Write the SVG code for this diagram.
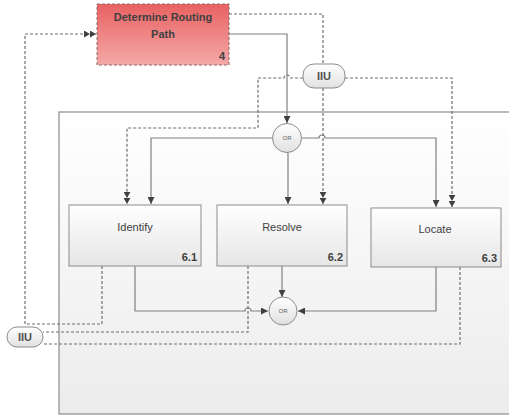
<svg xmlns="http://www.w3.org/2000/svg" width="509" height="416" viewBox="0 0 509 416">
<defs>
<linearGradient id="gBox" x1="0" y1="0" x2="0" y2="1"><stop offset="0" stop-color="#ffffff"/><stop offset="1" stop-color="#e6e6e6"/></linearGradient>
<linearGradient id="gCont" x1="0" y1="0" x2="0" y2="1"><stop offset="0" stop-color="#ffffff"/><stop offset="1" stop-color="#ececec"/></linearGradient>
<linearGradient id="gRed" x1="0" y1="0" x2="0" y2="1"><stop offset="0" stop-color="#e86262"/><stop offset="1" stop-color="#f5a8a8"/></linearGradient>
<linearGradient id="gIIU" x1="0" y1="0" x2="0" y2="1"><stop offset="0" stop-color="#ffffff"/><stop offset="1" stop-color="#e0e0e0"/></linearGradient>
<marker id="a1" viewBox="0 0 8 8" refX="8" refY="4" markerWidth="7" markerHeight="7" markerUnits="userSpaceOnUse" orient="auto"><path d="M0,0 L8,4 L0,8 Z" fill="#404040"/></marker>
<marker id="a2" viewBox="0 0 14 8" refX="14" refY="4" markerWidth="12" markerHeight="7" markerUnits="userSpaceOnUse" orient="auto"><path d="M0,0 L7,4 L0,8 Z M7,0 L14,4 L7,8 Z" fill="#404040"/></marker>
</defs>
<style>
.box{fill:url(#gBox);stroke:#8c8c8c;stroke-width:1}
.t{font-family:"Liberation Sans",Arial,sans-serif;font-size:11px;fill:#404040}
.n{font-family:"Liberation Sans",Arial,sans-serif;font-size:11px;font-weight:bold;fill:#404040}
.iiu{font-family:"Liberation Sans",Arial,sans-serif;font-size:11px;font-weight:bold;fill:#505050}
.or{fill:url(#gIIU);stroke:#8c8c8c;stroke-width:1}
.ort{font-family:"Liberation Sans",Arial,sans-serif;font-size:6px;fill:#606060}
.s{fill:none;stroke:#808080;stroke-width:1.2}
.d{fill:none;stroke:#6e6e6e;stroke-width:1.2;stroke-dasharray:3,2}
</style>
<rect x="59" y="112" width="460" height="302" fill="url(#gCont)" stroke="#8c8c8c" stroke-width="1.2"/>

<g id="connectors">
<path class="s" d="M229,34 H287 V123" marker-end="url(#a1)"/>
<path class="s" d="M273,138 H151 V204" marker-end="url(#a1)"/>
<path class="s" d="M288,153 V204" marker-end="url(#a1)"/>
<path class="s" d="M302,138 H319 a3,3 0 0 1 6,0 H436 V207" marker-end="url(#a1)"/>
<path class="s" d="M135,266 V311 H245 a3,3 0 0 1 6,0 H268" marker-end="url(#a1)"/>
<path class="s" d="M282,266 V297" marker-end="url(#a1)"/>
<path class="s" d="M436,267 V311 H298" marker-end="url(#a1)"/>
<path class="d" d="M229,14 H323 V63"/>
<path class="d" d="M323,88 V204" marker-end="url(#a2)"/>
<path class="d" d="M345,78 H452 V207" marker-end="url(#a2)"/>
<path class="d" d="M303,78 H290 a3,3 0 0 0 -6,0 H258 V128 H127 V204" marker-end="url(#a2)"/>
<path class="d" d="M102,266 V324 H25 V34 H96" marker-end="url(#a2)"/>
<path class="d" d="M248,266 V332 H43"/>
<path class="d" d="M460,267 V344 H43"/>
</g>

<g id="node-4">
<rect x="97" y="4" width="132" height="61" fill="url(#gRed)" stroke="#8c6a6a" stroke-width="1" stroke-dasharray="3,2"/>
<text class="n" x="163" y="21" text-anchor="middle">Determine Routing</text>
<text class="n" x="163" y="38" text-anchor="middle">Path</text>
<text class="n" x="225" y="60" text-anchor="end">4</text>
</g>

<g id="iiu-top">
<rect x="303" y="64" width="42" height="24" rx="11" ry="11" class="or"/>
<text class="iiu" x="324" y="80" text-anchor="middle">IIU</text>
</g>

<g id="or-top">
<circle cx="287" cy="138" r="14.5" class="or"/>
<text class="ort" x="287" y="140" text-anchor="middle">OR</text>
</g>

<g id="node-6-1">
<rect x="69" y="205" width="132" height="61" class="box"/>
<text class="t" x="135" y="231" text-anchor="middle">Identify</text>
<text class="n" x="197" y="261" text-anchor="end">6.1</text>
</g>

<g id="node-6-2">
<rect x="217" y="205" width="130" height="61" class="box"/>
<text class="t" x="282" y="231" text-anchor="middle">Resolve</text>
<text class="n" x="343" y="261" text-anchor="end">6.2</text>
</g>

<g id="node-6-3">
<rect x="371" y="208" width="130" height="59" class="box"/>
<text class="t" x="435" y="233" text-anchor="middle">Locate</text>
<text class="n" x="497" y="262" text-anchor="end">6.3</text>
</g>

<g id="or-bottom">
<circle cx="283" cy="311" r="14" class="or"/>
<text class="ort" x="283" y="313" text-anchor="middle">OR</text>
</g>

<g id="iiu-left">
<rect x="7" y="327" width="36" height="20" rx="10" ry="10" class="or"/>
<text class="iiu" x="25" y="341" text-anchor="middle">IIU</text>
</g>
</svg>
